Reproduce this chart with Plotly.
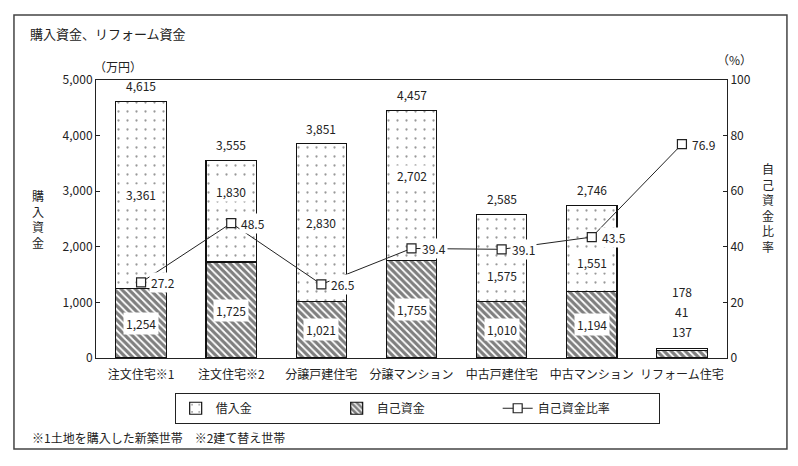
import plotly.graph_objects as go

# 購入資金、リフォーム資金 (万円) と 自己資金比率 (%)
categories = ["注文住宅※1", "注文住宅※2", "分譲戸建住宅", "分譲マンション",
              "中古戸建住宅", "中古マンション", "リフォーム住宅"]
own_funds = [1254, 1725, 1021, 1755, 1010, 1194, 137]
borrowed = [3361, 1830, 2830, 2702, 1575, 1551, 41]
totals = [4615, 3555, 3851, 4457, 2585, 2746, 178]
own_ratio = [27.2, 48.5, 26.5, 39.4, 39.1, 43.5, 76.9]

FONT = "Noto Sans CJK JP"
TXT = "#222222"

fig = go.Figure()

fig.add_trace(go.Bar(
    x=categories, y=own_funds, name="自己資金", legendrank=2,
    marker=dict(color="white", line=dict(color="#111", width=1.2),
                pattern=dict(shape="\\", fgcolor="#000", bgcolor="white",
                             size=5, solidity=0.65)),
))
fig.add_trace(go.Bar(
    x=categories, y=borrowed, name="借入金", legendrank=1,
    marker=dict(color="white", line=dict(color="#111", width=1.2),
                pattern=dict(shape=".", fgcolor="#333", bgcolor="white",
                             size=9, solidity=0.05)),
))
fig.add_trace(go.Scatter(
    x=categories, y=own_ratio, name="自己資金比率", yaxis="y2", legendrank=3,
    mode="lines+markers",
    line=dict(color="#222", width=1),
    marker=dict(symbol="square", size=9, color="white",
                line=dict(color="#222", width=1.2)),
))

# label nudges (px) so the borrowed labels stay clear of the ratio line
borrow_shift = {"注文住宅※2": 20, "分譲マンション": 10,
                "中古戸建住宅": -17, "中古マンション": -14}

annotations = []
n = len(categories)
for i, cat in enumerate(categories):
    if i < n - 1:
        annotations.append(dict(x=cat, y=totals[i], text=f"{totals[i]:,}",
                                yanchor="bottom", yshift=5, showarrow=False))
        annotations.append(dict(x=cat, y=own_funds[i] + borrowed[i] / 2,
                                text=f"{borrowed[i]:,}", showarrow=False,
                                yshift=borrow_shift.get(cat, 0),
                                bgcolor="white"))
        annotations.append(dict(x=cat, y=own_funds[i] / 2,
                                text=f"{own_funds[i]:,}", showarrow=False,
                                bgcolor="white", borderpad=2))
    else:
        # small bar: labels stacked above it
        for k, v in enumerate([own_funds[i], borrowed[i], totals[i]]):
            annotations.append(dict(x=cat, y=totals[i], text=f"{v:,}",
                                    yanchor="bottom", yshift=6 + 20 * k,
                                    showarrow=False))
    annotations.append(dict(x=cat, y=own_ratio[i], yref="y2",
                            text=f"{own_ratio[i]:.1f}", xanchor="left",
                            xshift=8, showarrow=False, bgcolor="white"))

annotations += [
    dict(text="購入資金、リフォーム資金", xref="paper", yref="paper",
         x=-0.108, y=1.168, xanchor="left", yanchor="middle", showarrow=False,
         font=dict(size=13)),
    dict(text="（万円）", xref="paper", yref="paper", x=0.035, y=1.047,
         xanchor="center", yanchor="middle", showarrow=False),
    dict(text="（%）", xref="paper", yref="paper", x=1.012, y=1.072,
         xanchor="center", yanchor="middle", showarrow=False),
    dict(text="購<br>入<br>資<br>金", xref="paper", yref="paper",
         x=-0.092, y=0.5, xanchor="center", yanchor="middle",
         showarrow=False),
    dict(text="自<br>己<br>資<br>金<br>比<br>率", xref="paper", yref="paper",
         x=1.065, y=0.54, xanchor="center", yanchor="middle",
         showarrow=False),
    dict(text="※1土地を購入した新築世帯　※2建て替え世帯", xref="paper",
         yref="paper", x=-0.105, y=-0.285, xanchor="left", yanchor="middle",
         showarrow=False),
]

# page body has an 8px margin, so the figure is a little smaller than the window
fig.update_layout(
    width=790, height=458,
    margin=dict(l=88, r=71, t=72, b=108),
    paper_bgcolor="white", plot_bgcolor="white",
    font=dict(family=FONT, size=12, color=TXT),
    barmode="stack", bargap=0.44,
    showlegend=True,
    legend=dict(orientation="h", x=0.509, xanchor="center", y=-0.125,
                yanchor="top", bordercolor="#222", borderwidth=1,
                traceorder="normal", entrywidth=116, font=dict(size=12)),
    xaxis=dict(showline=True, linecolor="#222", mirror=True, ticks="",
               ticklabelstandoff=6, tickfont=dict(size=12)),
    yaxis=dict(range=[0, 5000], dtick=1000, tickformat=",", showgrid=False,
               showline=True, linecolor="#222", ticks="inside", ticklen=4,
               tickcolor="#222", zeroline=False),
    yaxis2=dict(range=[0, 100], dtick=20, overlaying="y", side="right",
                showgrid=False, showline=True, linecolor="#222",
                ticks="inside", ticklen=4, tickcolor="#222", zeroline=False),
    annotations=annotations,
    shapes=[dict(type="rect", xref="paper", yref="paper",
                 x0=-0.13, x1=1.095, y0=-0.327, y1=1.234,
                 line=dict(color="#444", width=1.5))],
)

fig.write_html("out.html")
